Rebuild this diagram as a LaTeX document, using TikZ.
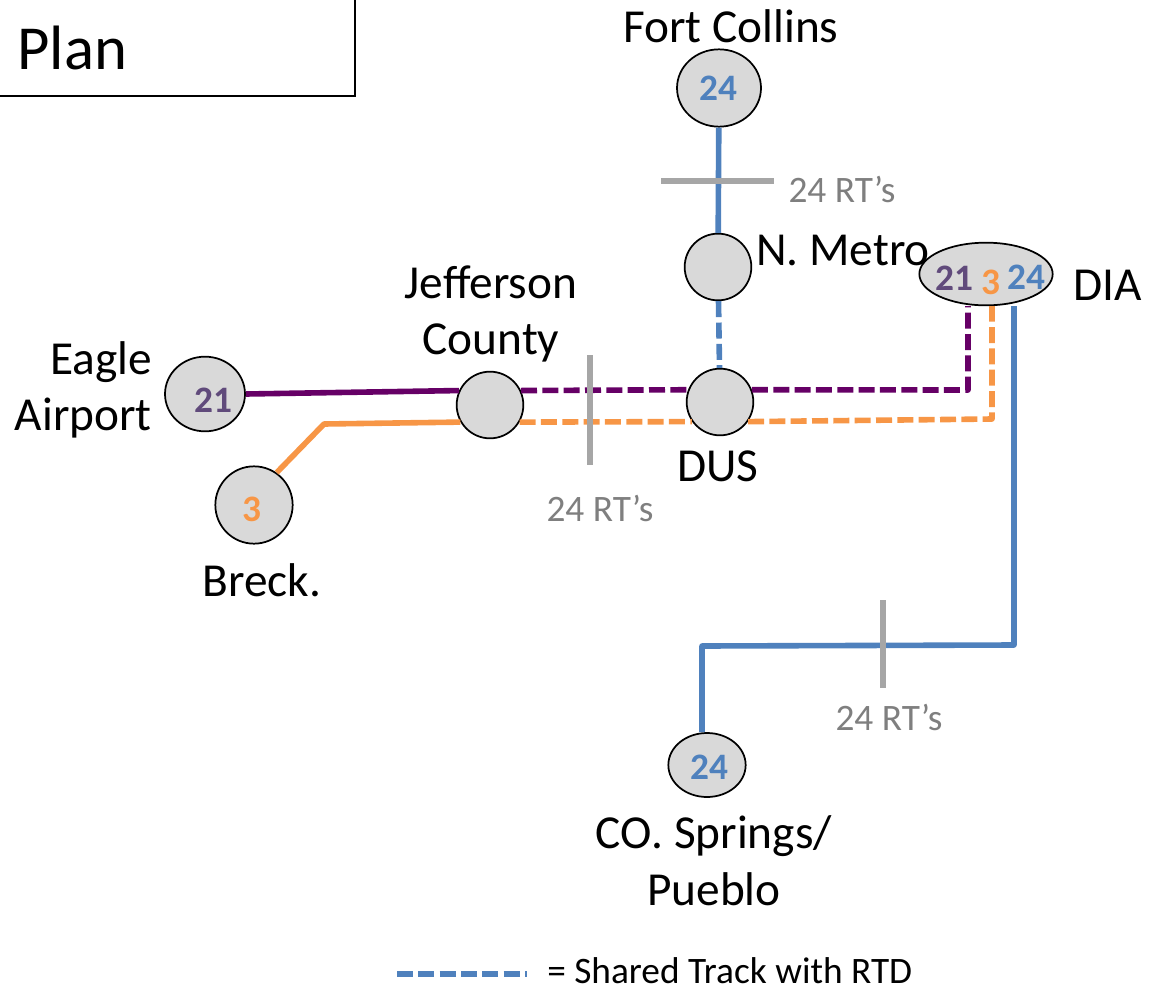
\documentclass[tikz,border=0pt]{standalone}
\usepackage{fontspec}
\usetikzlibrary{shapes.geometric}
\setmainfont{Carlito}
\definecolor{lineblue}{HTML}{4F81BD}
\definecolor{lineorange}{HTML}{F79646}
\definecolor{linepurple}{HTML}{660066}
\definecolor{numpurple}{HTML}{604A7B}
\definecolor{stopgray}{HTML}{D9D9D9}
\definecolor{rtgray}{HTML}{7F7F7F}
\definecolor{tickgray}{HTML}{A6A6A6}
\begin{document}
\begin{tikzpicture}[
    x=0.75pt, y=-0.75pt,
    stop/.style={ellipse, draw, fill=stopgray, line width=1.3pt, minimum width=50pt, minimum height=50pt, inner sep=0pt},
    num/.style={font=\fontsize{28}{28}\selectfont\bfseries, inner sep=0pt},
    place/.style={font=\fontsize{35.5}{42.5}\selectfont, align=center, inner sep=0pt},
    rts/.style={font=\fontsize{28}{30}\selectfont, text=rtgray, inner sep=0pt},
    track/.style={line width=4.2pt, line join=round},
    shared/.style={track, dash pattern=on 12pt off 4pt},
    tick/.style={line width=4.5pt, tickgray}
]
    \useasboundingbox (0,0) rectangle (1163,992);
    % stops
    \node [stop, minimum width=63pt, minimum height=58pt] (fort) at (719,88) {};
    \node [stop] (metro) at (718,267) {};
    \node [stop] (dus) at (720,402) {};
    \node [stop] (jeff) at (490,405) {};
    \node [stop, minimum width=60pt, minimum height=56pt] (eagle) at (205,394) {};
    \node [stop, minimum width=58pt, minimum height=58pt] (breck) at (254,505) {};
    \node [stop, minimum width=58pt, minimum height=48pt] (springs) at (707,765) {};
    \node [stop, minimum width=100pt, minimum height=47pt] (dia) at (986,274) {};
    % coordinates on the lines
    \coordinate (bendpurple) at (968,390);
    \coordinate (bendorange) at (992,419);
    \coordinate (bendblue) at (1014,645);
    \coordinate (bendsprings) at (702,646);
    \coordinate (bendbreck) at (324,424);
    % tracks
    \draw [track, lineblue] (fort) -- (metro);
    \draw [shared, lineblue] (metro) -- (dus);
    \draw [track, linepurple] (eagle.east) -- (jeff.155);
    \draw [track, lineorange] (breck.55) -- (bendbreck) -- (jeff.210);
    \draw [shared, linepurple] (jeff.25) -- (dus.159);
    \draw [shared, linepurple] (dus.21) -- (bendpurple) -- (dia.south -| bendpurple);
    \draw [shared, lineorange] (jeff.330) -- (dus.215);
    \draw [shared, lineorange] (dus.325) -- (bendorange) -- (dia.south -| bendorange);
    \draw [track, lineblue] (dia.south -| bendblue) -- (bendblue) -- (bendsprings) -- (springs.north -| bendsprings);
    % ticks
    \draw [tick] (661,181) -- (774,181);
    \draw [tick] (590,355) -- (590,465);
    \draw [tick] (883,600) -- (883,688);
    % numbers
    \node [num, text=lineblue] (fortnum) at (718,88) {24};
    \node [num, text=numpurple] (eaglenum) at (213,400) {21};
    \node [num, text=lineorange] (brecknum) at (252,509) {3};
    \node [num, text=lineblue] (springsnum) at (709,767) {24};
    \node [num, text=numpurple] (dianuma) at (954,278) {21};
    \node [num, text=lineorange] (dianumb) at (991,282) {3};
    \node [num, text=lineblue] (dianumc) at (1026,277) {24};
    % labels
    \node [place] (fortlabel) at (731,26) {Fort Collins};
    \node [place, anchor=west] (metrolabel) at (756,250) {N. Metro};
    \node [place] (dialabel) at (1108,285) {DIA};
    \node [place] (jefflabel) at (491,314) {Jefferson\\County};
    \node [place, align=right, anchor=east] (eaglelabel) at (152,390) {Eagle\\Airport};
    \node [place] (duslabel) at (718,466) {DUS};
    \node [place] (brecklabel) at (262,580) {Breck.};
    \node [place] (springslabel) at (714,861) {CO. Springs/\\Pueblo};
    \node [rts] (rtnorth) at (842,189) {24 RT’s};
    \node [rts] (rtwest) at (600,508) {24 RT’s};
    \node [rts] (rtsouth) at (889,717) {24 RT’s};
    % legend
    \coordinate (legendstart) at (397,974);
    \coordinate (legendend) at (527,974);
    \draw [shared, lineblue] (legendstart) -- (legendend);
    \node [font=\fontsize{28}{30}\selectfont, anchor=west, inner sep=0pt] (legendtext) at (547,971) {= Shared Track with RTD};
    % title box
    \coordinate (boxa) at (0,96);
    \coordinate (boxb) at (355,96);
    \coordinate (boxc) at (355,0);
    \draw [line width=1.1pt] (boxa) -- (boxb) -- (boxc);
    \node [font=\fontsize{47}{47}\selectfont, anchor=west, inner sep=0pt] (plan) at (17,48) {Plan};
\end{tikzpicture}
\end{document}
